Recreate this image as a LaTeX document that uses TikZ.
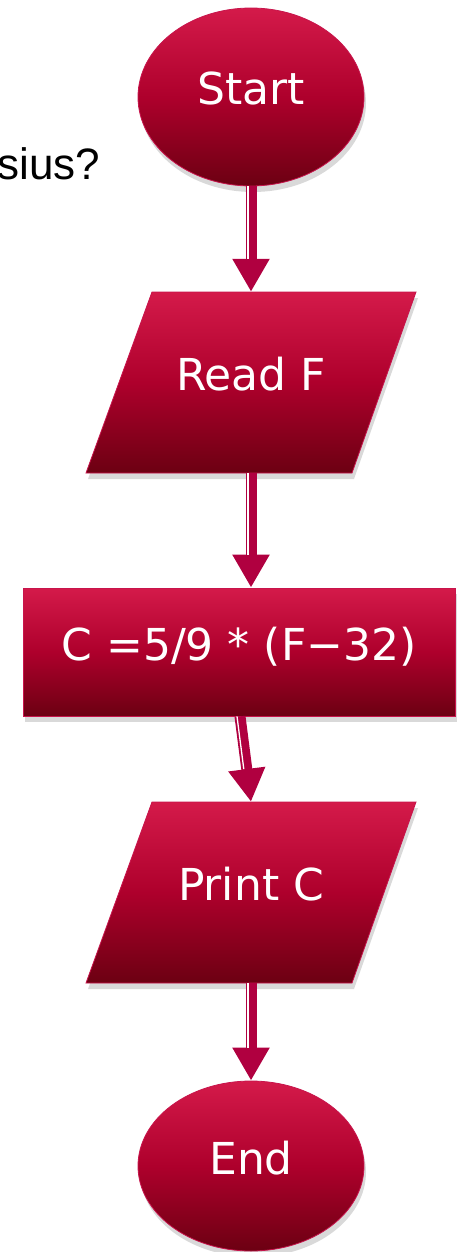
\documentclass[tikz,border=0pt]{standalone}
\usepackage{fontspec}
\setmainfont{DejaVu Sans}
\newfontfamily\arialfont{Liberation Sans}
\usetikzlibrary{shapes.geometric,arrows.meta,shadows}
\definecolor{topc}{HTML}{D41A4A}
\definecolor{midc}{HTML}{AE002C}
\definecolor{botc}{HTML}{6C0012}
\definecolor{edgec}{HTML}{C8144C}
\definecolor{arrc}{HTML}{B00040}
\tikzset{
  fillstyle/.style={draw=edgec, line width=0.8pt, top color=topc, bottom color=botc, middle color=midc,
    drop shadow={shadow xshift=2pt, shadow yshift=-6pt, opacity=0.15, fill=black}},
  label/.style={text=white, font=\fontsize{44}{48}\selectfont, inner sep=0pt, text height=32pt, text depth=16pt},
  oval/.style={fillstyle, label, ellipse, minimum width=226pt, minimum height=178pt},
  paratext/.style={label, rectangle, minimum width=330pt, minimum height=181pt},
  procbox/.style={fillstyle, label, rectangle, minimum width=432pt, minimum height=128pt},
  conn/.style={draw=arrc, line width=11pt, -{Triangle[width=35pt,length=33pt]}},
  gap/.style={draw=white, line width=1.3pt, shorten >=33pt},
}
\begin{document}
\begin{tikzpicture}[x=1pt,y=-1pt]
\useasboundingbox (0,0) rectangle (461,1252);
\node[anchor=base east, font=\arialfont\fontsize{44}{48}\selectfont] (q) at (104,180) {sius?};
\node[oval] (start) at (251,97) {Start};
\path[fillstyle] (86,473) -- (152,292) -- (416,292) -- (352,473) -- cycle;
\node[paratext] (read) at (251,382.5) {Read F};
\node[procbox] (calc) at (239,652) {C =5/9 * (F−32)};
\path[fillstyle] (86,983) -- (152,802) -- (416,802) -- (352,983) -- cycle;
\node[paratext] (print) at (251,892.5) {Print C};
\node[oval, minimum height=170pt] (end) at (251,1166) {End};
\draw[conn] (start.south) -- (read.north);
\draw[gap] ([xshift=-3pt]start.south) -- ([xshift=-3pt]read.north);
\draw[conn] (read.south) -- (read.south |- calc.north);
\draw[gap] ([xshift=-3pt]read.south) -- ([xshift=-3pt]read.south |- calc.north);
\draw[conn] ([xshift=1pt]calc.south) -- (print.north);
\draw[gap] ([xshift=-2pt]calc.south) -- ([xshift=-3pt]print.north);
\draw[conn] (print.south) -- (end.north);
\draw[gap] ([xshift=-3pt]print.south) -- ([xshift=-3pt]end.north);
\end{tikzpicture}
\end{document}
